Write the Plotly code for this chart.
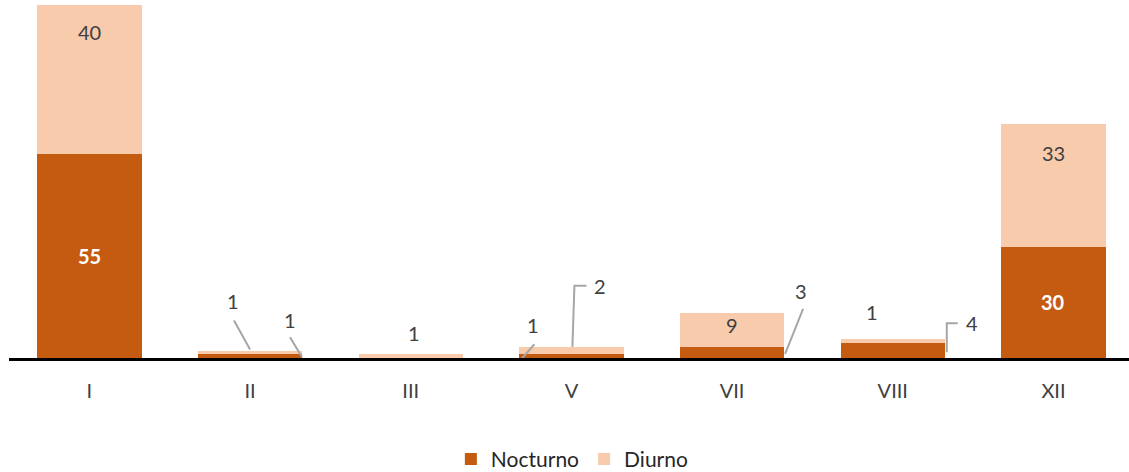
import plotly.graph_objects as go

categories = ["I", "II", "III", "V", "VII", "VIII", "XII"]
nocturno = [55, 1, 0, 1, 3, 4, 30]
diurno = [40, 1, 1, 2, 9, 1, 33]

C_NOC = "#C55A11"
C_DIU = "#F8CBAD"
TXT = "#404040"
FONT = "Lato, Open Sans, sans-serif"

W, H = 1129, 472
M_L, M_R, M_T, M_B = 9, 0, 5, 114
X_RANGE = [-0.5, 6.47]
Y_RANGE = [0, 95]
px_per_x = (W - M_L - M_R) / (X_RANGE[1] - X_RANGE[0])
px_per_y = (H - M_T - M_B) / (Y_RANGE[1] - Y_RANGE[0])


def dx(px):
    return px / px_per_x


def dy(px):
    return px / px_per_y


fig = go.Figure()
fig.add_trace(go.Bar(x=categories, y=nocturno, name="Nocturno", marker=dict(color=C_NOC, line=dict(width=0))))
fig.add_trace(go.Bar(x=categories, y=diurno, name="Diurno", marker=dict(color=C_DIU, line=dict(width=0))))

# label placement: (series, category index, text offset px (dx, up) from segment top, leader path px offsets, inside-bold)
labels = [
    ("d", 0, (0, -27), None, False),
    ("n", 0, (0, -102), None, True),
    ("d", 1, (-17, 50), [(-16, 30), (0, 1)], False),
    ("n", 1, (40, 34), [(40, 17), (52, -3)], False),
    ("d", 2, (3, 21), None, False),
    ("n", 3, (-38, 29), [(-37, 10), (-51, -6)], False),
    ("d", 3, (29, 61), [(15, 61), (3, 61), (1, 0)], False),
    ("d", 4, (0, -12), None, False),
    ("n", 4, (69, 56), [(71, 38), (53, -7)], False),
    ("d", 5, (-21, 27), None, False),
    ("n", 5, (79, 20), [(65, 20), (54, 20), (54, -9)], False),
    ("d", 6, (0, -29), None, False),
    ("n", 6, (0, -55), None, True),
]

for ser, i, (ox, oy), path, inner in labels:
    top = nocturno[i] + (diurno[i] if ser == "d" else 0)
    val = diurno[i] if ser == "d" else nocturno[i]
    fig.add_annotation(
        x=i + dx(ox), y=top + dy(oy), xref="x", yref="y",
        text=f"<b>{val}</b>" if inner else str(val), showarrow=False,
        font=dict(size=20, color="white" if inner else TXT, family=FONT),
    )
    if path:
        pts = [(i + dx(px), top + dy(py)) for px, py in path]
        d = "M " + " L ".join(f"{a},{b}" for a, b in pts)
        fig.add_shape(type="path", path=d, xref="x", yref="y", line=dict(color="#A6A6A6", width=2))

fig.update_layout(
    width=W, height=H, barmode="stack", bargap=0.35,
    margin=dict(l=M_L, r=M_R, t=M_T, b=M_B, autoexpand=False),
    plot_bgcolor="white", paper_bgcolor="white",
    font=dict(family=FONT, size=20, color=TXT),
    legend=dict(orientation="h", x=0.503, xanchor="center", y=0.027, yanchor="middle",
                yref="container", font=dict(size=21, color="#262626"), itemwidth=30,
                traceorder="normal"),
    showlegend=True,
)
fig.update_xaxes(range=X_RANGE, showline=True, linecolor="black", linewidth=3, automargin=False,
                 ticks="", tickfont=dict(size=20, color=TXT), ticklabelstandoff=13)
fig.update_yaxes(range=Y_RANGE, visible=False, showgrid=False, automargin=False)

fig.write_html("out.html", config={"displayModeBar": False},
               post_script="document.body.style.margin='0';")
